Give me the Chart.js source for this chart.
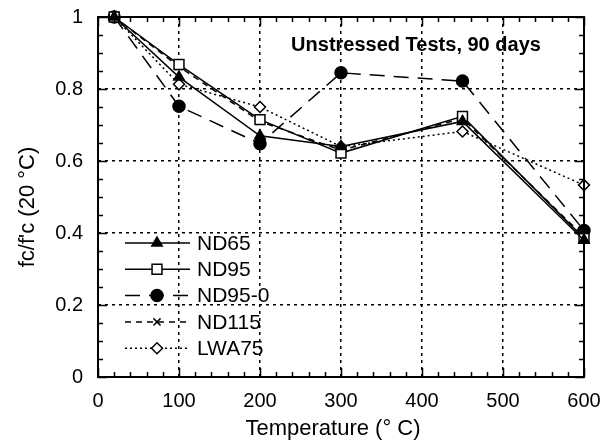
<!DOCTYPE html>
<html>
<head>
<meta charset="utf-8">
<script src="https://cdn.jsdelivr.net/npm/chart.js@4/dist/chart.umd.min.js"></script>
<style>
  html, body { margin: 0; padding: 0; background: #fff; }
  #wrap { width: 603px; height: 445px; }
</style>
</head>
<body>
<div id="wrap"><canvas id="chart"></canvas></div>
<script>
const temps = [20, 100, 200, 300, 450, 600];
const nd65 = [1.0, 0.833, 0.67, 0.64, 0.71, 0.38];
const nd95 = [1.0, 0.868, 0.715, 0.622, 0.724, 0.385];
const nd95_0 = [1.0, 0.752, 0.648, 0.845, 0.822, 0.407];
const nd115 = [1.0, 0.862, 0.71, 0.63, 0.718, 0.39];
const lwa75 = [1.0, 0.813, 0.75, 0.64, 0.682, 0.533];
const seriesNames = ["ND65", "ND95", "ND95-0", "ND115", "LWA75"];
const xTicks = [0, 100, 200, 300, 400, 500, 600];
const yTicks = [0, 0.2, 0.4, 0.6, 0.8, 1];

const FONT = "Liberation Sans, Arial, Helvetica, sans-serif";

function pts(values) {
  return values.map((v, i) => ({ x: temps[i], y: v }));
}

const styles = [
  { dash: [], pointStyle: "triangle", radius: 6, fill: "#000" },
  { dash: [], pointStyle: "rect", radius: 7, fill: "#fff" },
  { dash: [15, 9], pointStyle: "circle", radius: 6, fill: "#000" },
  { dash: [6, 5], pointStyle: "crossRot", radius: 5, fill: "#fff" },
  { dash: [2, 3], pointStyle: "rectRot", radius: 5.5, fill: "#fff" },
];
const allValues = [nd65, nd95, nd95_0, nd115, lwa75];

const datasets = allValues.map((vals, i) => ({
  label: seriesNames[i],
  data: pts(vals),
  borderColor: "#000",
  borderWidth: 1.5,
  borderDash: styles[i].dash,
  pointStyle: styles[i].pointStyle,
  pointRadius: styles[i].radius,
  pointBackgroundColor: styles[i].fill,
  pointBorderColor: "#000",
  pointBorderWidth: 1.5,
  tension: 0,
  clip: false,
}));

// frame, inward ticks on all four sides, minor ticks
const framePlugin = {
  id: "frame",
  afterDatasetsDraw(chart) {
    const { ctx, chartArea: a, scales } = chart;
    ctx.save();
    ctx.strokeStyle = "#000";
    ctx.lineWidth = 1.5;
    ctx.setLineDash([]);
    ctx.beginPath();
    for (let v = 0; v <= 600; v += 20) {
      const px = Math.round(scales.x.getPixelForValue(v)) + 0.5;
      const len = v % 100 === 0 ? 9 : 5;
      ctx.moveTo(px, a.bottom); ctx.lineTo(px, a.bottom - len);
      ctx.moveTo(px, a.top); ctx.lineTo(px, a.top + len);
    }
    for (let k = 0; k <= 20; k++) {
      const py = Math.round(scales.y.getPixelForValue(k * 0.05)) + 0.5;
      const len = k % 4 === 0 ? 9 : 5;
      ctx.moveTo(a.left, py); ctx.lineTo(a.left + len, py);
      ctx.moveTo(a.right, py); ctx.lineTo(a.right - len, py);
    }
    ctx.stroke();
    ctx.lineWidth = 2;
    ctx.strokeRect(a.left, a.top, a.right - a.left, a.bottom - a.top);
    ctx.restore();
  },
};

// in-plot legend, title and axis titles
const textPlugin = {
  id: "texts",
  afterDraw(chart) {
    const { ctx } = chart;
    ctx.save();
    ctx.fillStyle = "#000";

    ctx.font = "bold 20px " + FONT;
    ctx.textAlign = "center";
    ctx.textBaseline = "alphabetic";
    ctx.fillText("Unstressed Tests, 90 days", 416, 51);

    ctx.font = "22px " + FONT;
    ctx.fillText("Temperature (\u00B0 C)", 333, 435);

    ctx.save();
    ctx.translate(34, 207);
    ctx.rotate(-Math.PI / 2);
    ctx.font = "22px " + FONT;
    ctx.fillText("fc/f'c (20 \u00B0C)", 0, 0);
    ctx.restore();

    const rowY0 = 243, rowStep = 26.3;
    chart.data.datasets.forEach((ds, i) => {
      const y = rowY0 + i * rowStep;
      ctx.strokeStyle = "#000";
      ctx.lineWidth = 1.5;
      ctx.setLineDash(ds.borderDash);
      ctx.beginPath();
      ctx.moveTo(125, y);
      ctx.lineTo(190, y);
      ctx.stroke();
      ctx.setLineDash([]);
      ctx.fillStyle = ds.pointBackgroundColor;
      ctx.strokeStyle = "#000";
      ctx.lineWidth = 1.5;
      Chart.helpers.drawPoint(ctx, {
        pointStyle: ds.pointStyle,
        radius: ds.pointRadius,
        rotation: 0,
        borderWidth: 1.5,
      }, 157, y);
      ctx.fillStyle = "#000";
      ctx.font = "21px " + FONT;
      ctx.textAlign = "left";
      ctx.textBaseline = "middle";
      ctx.fillText(ds.label, 197, y + 1);
    });
    ctx.restore();
  },
};

const gridColor = (edgeA, edgeB) => (c) =>
  (c.tick && (c.tick.value === edgeA || c.tick.value === edgeB)) ? "rgba(0,0,0,0)" : "#000";

new Chart(document.getElementById("chart"), {
  type: "line",
  data: { datasets },
  options: {
    responsive: true,
    maintainAspectRatio: false,
    animation: false,
    layout: { padding: { top: 17, right: 19, left: 0, bottom: 0 } },
    plugins: { legend: { display: false }, tooltip: { enabled: false } },
    scales: {
      x: {
        type: "linear",
        min: 0,
        max: 600,
        afterBuildTicks: (s) => { s.ticks = xTicks.map((v) => ({ value: v })); },
        afterFit: (s) => { s.height = 68; s.paddingLeft = 0; s.paddingRight = 0; },
        ticks: { color: "#000", font: { family: FONT, size: 20 }, padding: 12, maxRotation: 0 },
        grid: { color: gridColor(0, 600), lineWidth: 1.5, drawTicks: false },
        border: { display: false, dash: [3, 4] },
      },
      y: {
        type: "linear",
        min: 0,
        max: 1,
        afterBuildTicks: (s) => { s.ticks = yTicks.map((v) => ({ value: v })); },
        afterFit: (s) => { s.width = 98; s.paddingTop = 0; s.paddingBottom = 0; },
        ticks: {
          color: "#000",
          font: { family: FONT, size: 20 },
          padding: 15,
          callback: (v) => String(Math.round(v * 10) / 10),
        },
        grid: { color: gridColor(0, 1), lineWidth: 1.5, drawTicks: false },
        border: { display: false, dash: [3, 4] },
      },
    },
  },
  plugins: [framePlugin, textPlugin],
});
</script>
</body>
</html>
